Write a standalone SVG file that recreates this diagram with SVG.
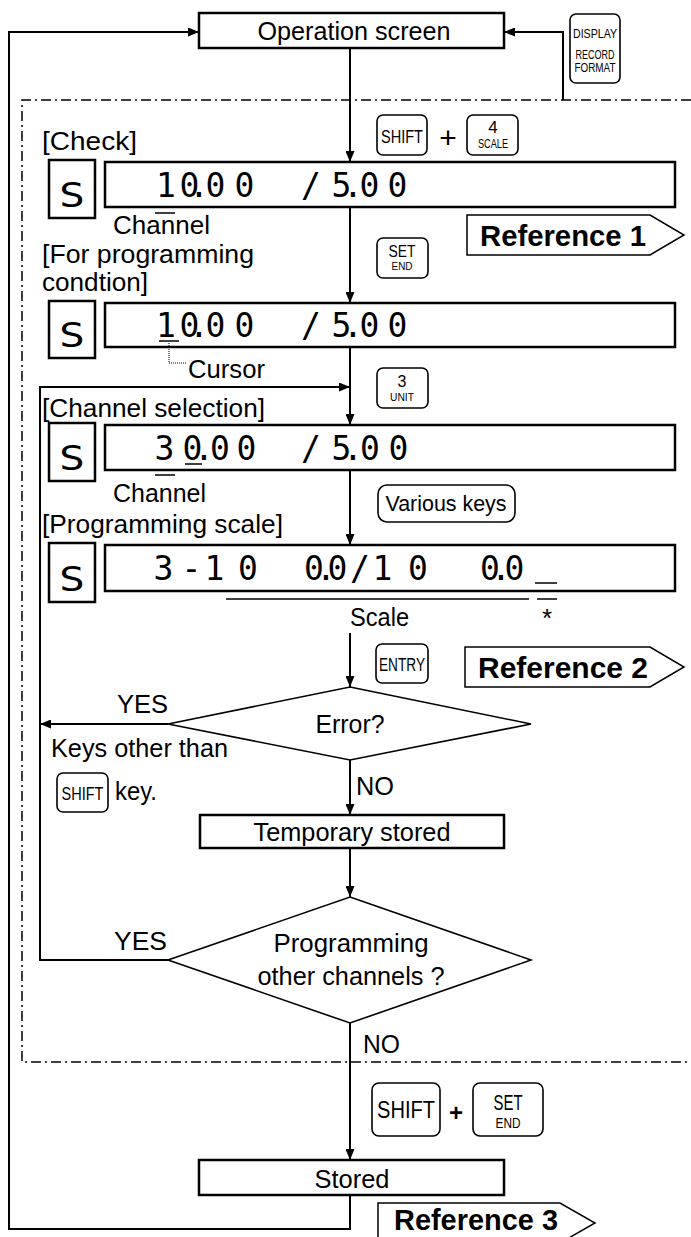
<svg xmlns="http://www.w3.org/2000/svg" width="691" height="1237" viewBox="0 0 691 1237">
<defs>
<marker id="arr" markerUnits="userSpaceOnUse" markerWidth="11" markerHeight="9" refX="11" refY="4.5" orient="auto">
<path d="M0,0 L11,4.5 L0,9 z" fill="#000"/>
</marker>
<style>
.t{font-family:"Liberation Sans",Arial,sans-serif;font-size:26px;fill:#000}
.c{text-anchor:middle}
.b{font-family:"Liberation Sans",Arial,sans-serif;font-weight:bold;font-size:29px;fill:#000}
.k{font-family:"Liberation Sans",Arial,sans-serif;fill:#000;text-anchor:middle}
.seg{font-family:"DejaVu Sans Mono","Liberation Mono",monospace;font-size:33px;fill:#000;text-anchor:middle}
.box{fill:#fff;stroke:#000;stroke-width:2.5}
.key{fill:#fff;stroke:#000;stroke-width:1.6}
.dia{fill:#fff;stroke:#000;stroke-width:1.6}
.ln{fill:none;stroke:#000;stroke-width:2}
.thin{fill:none;stroke:#000;stroke-width:1.5}
.ref{fill:#fff;stroke:#000;stroke-width:1.5}
</style>
</defs>
<rect width="691" height="1237" fill="#fff"/>

<g id="frame">
<path d="M691,100 H22 V1062 H691" fill="none" stroke="#000" stroke-width="1.5" stroke-dasharray="10,4,2,4"/>
</g>

<g id="connectors">
<path class="ln" d="M350,1195 V1229 H9 V32 H199" marker-end="url(#arr)"/>
<path class="ln" d="M563,100 V32 H504" marker-end="url(#arr)"/>
<path class="ln" d="M350,48 V162" marker-end="url(#arr)"/>
<path class="ln" d="M350,207 V303" marker-end="url(#arr)"/>
<path class="ln" d="M350,347 V425" marker-end="url(#arr)"/>
<path class="ln" d="M168,960 H40 V387 H350" marker-end="url(#arr)"/>
<path class="ln" d="M350,470 V545" marker-end="url(#arr)"/>
<path class="ln" d="M350,633 V687" marker-end="url(#arr)"/>
<path class="ln" d="M168,724 H40" marker-end="url(#arr)"/>
<path class="ln" d="M350,760 V815" marker-end="url(#arr)"/>
<path class="ln" d="M350,848 V897" marker-end="url(#arr)"/>
<path class="ln" d="M350,1023 V1160" marker-end="url(#arr)"/>
</g>

<g id="operation-screen">
<rect class="box" x="199" y="13" width="305" height="35"/>
<text class="t c" x="354" y="40" textLength="193" lengthAdjust="spacingAndGlyphs">Operation screen</text>
</g>

<g id="key-display">
<rect class="key" x="570" y="14" width="50" height="69" rx="6"/>
<text class="k" x="595" y="38" font-size="13" textLength="44" lengthAdjust="spacingAndGlyphs">DISPLAY</text>
<text class="k" x="595" y="59" font-size="13" textLength="39" lengthAdjust="spacingAndGlyphs">RECORD</text>
<text class="k" x="595" y="72" font-size="13" textLength="41" lengthAdjust="spacingAndGlyphs">FORMAT</text>
</g>

<g id="check">
<text class="t" x="42" y="150" textLength="95" lengthAdjust="spacingAndGlyphs">[Check]</text>
<rect class="key" x="377" y="115" width="50" height="40" rx="6"/>
<text class="k" x="402" y="143" font-size="19" textLength="42" lengthAdjust="spacingAndGlyphs">SHIFT</text>
<text class="k" x="448" y="148" font-size="30">+</text>
<rect class="key" x="467" y="115" width="51" height="40" rx="6"/>
<text class="k" x="493" y="133" font-size="17">4</text>
<text class="k" x="493" y="148" font-size="12" textLength="30" lengthAdjust="spacingAndGlyphs">SCALE</text>
<rect class="box" x="49" y="160" width="46" height="58" stroke-width="2"/>
<text class="seg" x="72" y="207" font-size="62" textLength="26" lengthAdjust="spacingAndGlyphs">S</text>
<rect class="box" x="105" y="162" width="570" height="45"/>
<text class="seg" x="166 189.5 199 215.5 244.5 280 311 341.5 353 369.5 397.5" y="197">10.00 /5.00</text>
<path class="thin" d="M155,213 H175"/>
<text class="t" x="113" y="234" font-size="24" textLength="97" lengthAdjust="spacingAndGlyphs">Channel</text>
</g>

<g id="reference-1">
<path class="ref" d="M467,215 H650 L684,235 L650,255 H467 Z"/>
<text class="b" x="480" y="246" textLength="166" lengthAdjust="spacingAndGlyphs">Reference 1</text>
</g>

<g id="programming-condition">
<text class="t" x="42" y="263" font-size="24" textLength="212" lengthAdjust="spacingAndGlyphs">[For programming</text>
<text class="t" x="42" y="291" font-size="24" textLength="106" lengthAdjust="spacingAndGlyphs">condtion]</text>
<rect class="key" x="377" y="238" width="51" height="40" rx="6"/>
<text class="k" x="402" y="257" font-size="16" textLength="27" lengthAdjust="spacingAndGlyphs">SET</text>
<text class="k" x="402" y="270" font-size="10" textLength="21" lengthAdjust="spacingAndGlyphs">END</text>
<rect class="box" x="49" y="301" width="46" height="57" stroke-width="2"/>
<text class="seg" x="72" y="347" font-size="62" textLength="26" lengthAdjust="spacingAndGlyphs">S</text>
<rect class="box" x="105" y="303" width="570" height="44"/>
<text class="seg" x="166 189.5 199 215.5 244.5 280 311 341.5 353 369.5 397.5" y="337">10.00 /5.00</text>
<path class="thin" d="M159,341 H179"/>
<path d="M169,343 V363 H186" fill="none" stroke="#000" stroke-width="1" stroke-dasharray="1,1"/>
<text class="t" x="188" y="378" textLength="77" lengthAdjust="spacingAndGlyphs">Cursor</text>
</g>

<g id="channel-selection">
<rect class="key" x="377" y="368" width="51" height="40" rx="6"/>
<text class="k" x="402" y="387" font-size="16">3</text>
<text class="k" x="402" y="401" font-size="10" textLength="24" lengthAdjust="spacingAndGlyphs">UNIT</text>
<text class="t" x="42" y="417" textLength="223" lengthAdjust="spacingAndGlyphs">[Channel selection]</text>
<rect class="box" x="49" y="423" width="46" height="58" stroke-width="2"/>
<text class="seg" x="72" y="470" font-size="62" textLength="26" lengthAdjust="spacingAndGlyphs">S</text>
<rect class="box" x="105" y="425" width="570" height="45"/>
<text class="seg" x="164.5 192.5 204 220 246.5 280 311 341.5 353 370 398.5" y="460">30.00 /5.00</text>
<path class="thin" d="M185,464 H202"/>
<path class="thin" d="M155,475 H175"/>
<text class="t" x="113" y="502" textLength="93" lengthAdjust="spacingAndGlyphs">Channel</text>
<rect class="key" x="378" y="485" width="137" height="37" rx="9"/>
<text class="k" x="446" y="511" font-size="22" textLength="121" lengthAdjust="spacingAndGlyphs">Various keys</text>
</g>

<g id="programming-scale">
<text class="t" x="42" y="533" textLength="241" lengthAdjust="spacingAndGlyphs">[Programming scale]</text>
<rect class="box" x="49" y="543" width="46" height="59" stroke-width="2"/>
<text class="seg" x="72" y="591" font-size="62" textLength="26" lengthAdjust="spacingAndGlyphs">S</text>
<rect class="box" x="105" y="545" width="570" height="46"/>
<text class="seg" x="163.5 177 191.5 203 214.5 248 280 314 326 337.5 360 382.5 418 455 490 501 514.5" y="580">3 - 10 0.0/10 0.0</text>
<path class="thin" d="M535,583 H557"/>
<path class="thin" d="M226,599 H529 M537,599 H557"/>
<text class="t" x="350" y="626" textLength="59" lengthAdjust="spacingAndGlyphs">Scale</text>
<text class="t c" x="547" y="627" font-size="20">*</text>
<rect class="key" x="376" y="644" width="52" height="39" rx="6"/>
<text class="k" x="402" y="671" font-size="18" textLength="46" lengthAdjust="spacingAndGlyphs">ENTRY</text>
</g>

<g id="reference-2">
<path class="ref" d="M465,647 H650 L684,667 L650,687 H465 Z"/>
<text class="b" x="478" y="678" textLength="170" lengthAdjust="spacingAndGlyphs">Reference 2</text>
</g>

<g id="error">
<polygon class="dia" points="350,687 531,724 350,760 168,724"/>
<text class="t c" x="350" y="733" textLength="69" lengthAdjust="spacingAndGlyphs">Error?</text>
<text class="t" x="117" y="713" textLength="51" lengthAdjust="spacingAndGlyphs">YES</text>
<text class="t" x="51" y="757" textLength="177" lengthAdjust="spacingAndGlyphs">Keys other than</text>
<rect class="key" x="57" y="773" width="51" height="39" rx="6"/>
<text class="k" x="82.5" y="800" font-size="18" textLength="42" lengthAdjust="spacingAndGlyphs">SHIFT</text>
<text class="t" x="115" y="800" textLength="42" lengthAdjust="spacingAndGlyphs">key.</text>
<text class="t" x="356" y="795" textLength="38" lengthAdjust="spacingAndGlyphs">NO</text>
</g>

<g id="temporary-stored">
<rect class="box" x="200" y="815" width="304" height="33"/>
<text class="t c" x="352" y="841" textLength="197" lengthAdjust="spacingAndGlyphs">Temporary stored</text>
</g>

<g id="other-channels">
<polygon class="dia" points="350,897 531,960 350,1023 168,960"/>
<text class="t c" x="351" y="952" textLength="155" lengthAdjust="spacingAndGlyphs">Programming</text>
<text class="t c" x="351" y="985" textLength="187" lengthAdjust="spacingAndGlyphs">other channels ?</text>
<text class="t" x="114" y="950" textLength="53" lengthAdjust="spacingAndGlyphs">YES</text>
<text class="t" x="363" y="1053" textLength="37" lengthAdjust="spacingAndGlyphs">NO</text>
</g>

<g id="store-keys">
<rect class="key" x="372" y="1083" width="68" height="53" rx="7"/>
<text class="k" x="406" y="1118" font-size="24" textLength="58" lengthAdjust="spacingAndGlyphs">SHIFT</text>
<text class="k" x="456" y="1121" font-size="24" font-weight="bold">+</text>
<rect class="key" x="473" y="1083" width="70" height="53" rx="7"/>
<text class="k" x="508" y="1110" font-size="22" textLength="29" lengthAdjust="spacingAndGlyphs">SET</text>
<text class="k" x="508" y="1128" font-size="14" textLength="25" lengthAdjust="spacingAndGlyphs">END</text>
</g>

<g id="stored">
<rect class="box" x="199" y="1160" width="305" height="35"/>
<text class="t c" x="352" y="1188" textLength="75" lengthAdjust="spacingAndGlyphs">Stored</text>
</g>

<g id="reference-3">
<path class="ref" d="M378,1203 H560 L595,1223 L560,1243 H378 Z"/>
<text class="b" x="394" y="1230" font-size="27" textLength="164" lengthAdjust="spacingAndGlyphs">Reference 3</text>
</g>
</svg>
